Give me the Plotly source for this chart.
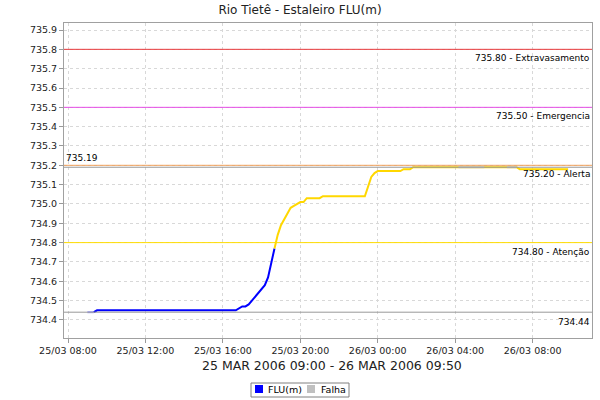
import plotly.graph_objects as go

# ---------------- data ----------------
times = [
    "2006-03-25 09:00", "2006-03-25 09:20", "2006-03-25 09:30", "2006-03-25 16:40",
    "2006-03-25 16:50", "2006-03-25 17:00", "2006-03-25 17:10", "2006-03-25 17:20",
    "2006-03-25 17:30", "2006-03-25 17:40", "2006-03-25 17:50", "2006-03-25 18:00",
    "2006-03-25 18:10", "2006-03-25 18:20", "2006-03-25 18:30", "2006-03-25 18:40",
    "2006-03-25 18:50", "2006-03-25 19:00", "2006-03-25 19:10", "2006-03-25 19:20",
    "2006-03-25 19:30", "2006-03-25 19:40", "2006-03-25 19:50", "2006-03-25 20:00",
    "2006-03-25 20:10", "2006-03-25 20:20", "2006-03-25 21:00", "2006-03-25 21:10",
    "2006-03-25 23:20", "2006-03-25 23:30", "2006-03-25 23:40", "2006-03-25 23:50",
    "2006-03-26 00:00", "2006-03-26 00:10", "2006-03-26 01:10", "2006-03-26 01:20",
    "2006-03-26 01:40", "2006-03-26 01:50", "2006-03-26 04:10", "2006-03-26 05:30",
    "2006-03-26 06:40", "2006-03-26 07:10", "2006-03-26 07:20", "2006-03-26 09:50",
]
levels = [
    734.44, 734.44, 734.45, 734.45,
    734.46, 734.47, 734.47, 734.48,
    734.50, 734.52, 734.54, 734.56,
    734.58, 734.62, 734.69, 734.77,
    734.84, 734.89, 734.92, 734.95,
    734.98, 734.99, 735.00, 735.01,
    735.01, 735.03, 735.03, 735.04,
    735.04, 735.09, 735.14, 735.16,
    735.17, 735.17, 735.17, 735.18,
    735.18, 735.19, 735.19, 735.19,
    735.19, 735.19, 735.18, 735.18,
]
# periods flagged as "Falha"
falha_times = ["2006-03-26 04:10", "2006-03-26 05:30", None, "2006-03-26 06:40", "2006-03-26 07:10"]
falha_levels = [735.19, 735.19, None, 735.19, 735.19]

threshold_values = [735.80, 735.50, 735.20, 734.80]
threshold_names = ["Extravasamento", "Emergencia", "Alerta", "Atenção"]
threshold_colors = ["#e8393b", "#e54ce5", "#f0a05a", "#ffdd00"]

title_text = "Rio Tietê - Estaleiro FLU(m)"
x_title_text = "25 MAR 2006 09:00 - 26 MAR 2006 09:50"
legend_names = ["FLU(m)", "Falha"]
legend_colors = ["#0000ff", "#c0c0c0"]

# ---------------- layout geometry ----------------
W, H = 600, 400
ML, MR, MT, MB = 64, 8, 23, 62
PW, PH = W - ML - MR, H - MT - MB


def px(x):
    return (x - ML) / PW


def py(y):
    return (H - MB - y) / PH


FONT = "DejaVu Sans"
BLUE = "#0000ff"
YELLOW = "#ffd700"

# split the series by alert threshold (Atenção)
att = threshold_values[3]
k = next(i for i, v in enumerate(levels) if v >= att)

fig = go.Figure()
# faint first piece
fig.add_trace(go.Scatter(x=times[:2], y=levels[:2], mode="lines",
                         line=dict(color="rgba(60,60,255,0.5)", width=2),
                         showlegend=False, hoverinfo="skip"))
fig.add_trace(go.Scatter(x=times[1:k], y=levels[1:k], mode="lines",
                         line=dict(color=BLUE, width=2), showlegend=False))
fig.add_trace(go.Scatter(x=times[k - 1:], y=levels[k - 1:], mode="lines",
                         line=dict(color=YELLOW, width=2), showlegend=False))
fig.add_trace(go.Scatter(x=falha_times, y=falha_levels, mode="lines",
                         line=dict(color="#c8c8c8", width=2), showlegend=False,
                         connectgaps=False))

shapes = []
annotations = []

# threshold lines + labels
for v, name, col in zip(threshold_values, threshold_names, threshold_colors):
    shapes.append(dict(type="line", xref="paper", x0=0, x1=1, yref="y", y0=v, y1=v,
                       line=dict(color=col, width=1)))
    annotations.append(dict(xref="paper", x=px(591.5), yref="y", y=v, yshift=-9,
                            text=f"{v:.2f} - {name}", showarrow=False,
                            xanchor="right", yanchor="middle",
                            font=dict(family=FONT, size=9, color="#000")))

vmax = max(levels)
vmin = min(levels)
for v in (vmax, vmin):
    shapes.append(dict(type="line", xref="paper", x0=0, x1=1, yref="y", y0=v, y1=v,
                       line=dict(color="#999999", width=1)))
annotations.append(dict(xref="paper", x=px(64), yref="y", y=vmax, yshift=9,
                        text=f"{vmax:.2f}", showarrow=False, xanchor="left",
                        yanchor="middle", font=dict(family=FONT, size=9, color="#000")))
annotations.append(dict(xref="paper", x=px(591.5), yref="y", y=vmin, yshift=-10,
                        text=f"{vmin:.2f}", showarrow=False, xanchor="right",
                        yanchor="middle", font=dict(family=FONT, size=9, color="#000")))

# x axis caption
annotations.append(dict(xref="paper", x=px(332), yref="paper", y=py(365),
                        text=x_title_text, showarrow=False, xanchor="center",
                        yanchor="middle", font=dict(family=FONT, size=12.5, color="#222")))

# legend (manual box)
shapes.append(dict(type="rect", xref="paper", yref="paper",
                   x0=px(251), x1=px(349), y0=py(397), y1=py(383),
                   line=dict(color="#808080", width=1), fillcolor="white"))
sq = [(255, 266), (307, 319)]
for (sx, tx), name, col in zip(sq, legend_names, legend_colors):
    shapes.append(dict(type="rect", xref="paper", yref="paper",
                       x0=px(sx), x1=px(sx + 8), y0=py(393), y1=py(385),
                       line=dict(width=0), fillcolor=col))
    annotations.append(dict(xref="paper", yref="paper", x=px(tx), y=py(389.5),
                            text=name, showarrow=False, xanchor="left", yanchor="middle",
                            font=dict(family=FONT, size=9.5, color="#000")))

fig.update_layout(
    width=W, height=H,
    margin=dict(l=ML, r=MR, t=MT, b=MB),
    paper_bgcolor="white", plot_bgcolor="white",
    title=dict(text=title_text, x=0.5, xanchor="center", y=1 - 10 / H, yanchor="middle",
               font=dict(family=FONT, size=12, color="#222")),
    showlegend=False,
    shapes=shapes,
    annotations=annotations,
    xaxis=dict(
        type="date",
        range=["2006-03-25 07:47:36", "2006-03-26 11:04"],
        tick0="2006-03-25 08:00", dtick=4 * 3600 * 1000,
        tickformat="%d/%m %H:%M",
        tickfont=dict(family=FONT, size=9.5, color="#222"),
        ticks="outside", ticklen=4, tickcolor="#999",
        showgrid=True, gridcolor="#d8d8d8", griddash="3px,3px", gridwidth=1,
        showline=True, linecolor="#a0a0a0", linewidth=1, mirror=True,
        zeroline=False,
    ),
    yaxis=dict(
        range=[734.3065, 735.9363],
        tick0=734.4, dtick=0.1, tickformat=".1f",
        tickfont=dict(family=FONT, size=9.5, color="#222"),
        ticks="outside", ticklen=4, tickcolor="#999",
        showgrid=True, gridcolor="#d8d8d8", griddash="3px,3px", gridwidth=1,
        showline=True, linecolor="#a0a0a0", linewidth=1, mirror=True,
        zeroline=False,
    ),
)

fig.write_html("out.html",
               config={"displayModeBar": False},
               post_script="document.body.style.margin='0px';document.body.style.padding='0px';")
